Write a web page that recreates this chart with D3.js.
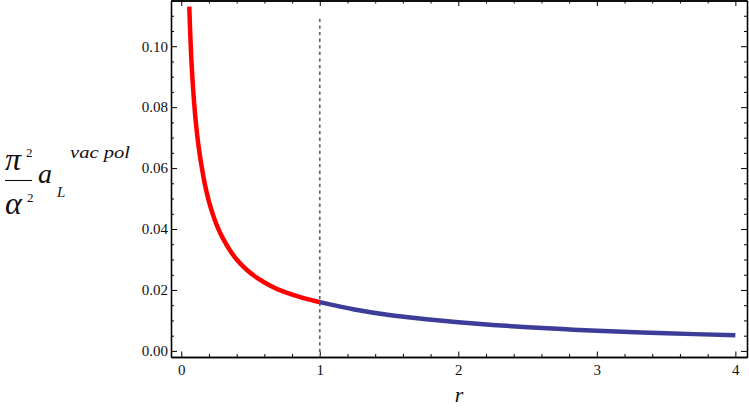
<!DOCTYPE html>
<html>
<head>
<meta charset="utf-8">
<script src="https://cdn.jsdelivr.net/npm/d3@7"></script>
<style>
  html, body { margin: 0; padding: 0; background: #fff; }
  svg { display: block; }
</style>
</head>
<body>
<svg width="749" height="418"></svg>
<script>
// values
const redR = [0.058, 0.065, 0.073, 0.082, 0.092, 0.105, 0.12, 0.135, 0.15, 0.17, 0.19, 0.21, 0.24, 0.27, 0.3, 0.35, 0.4, 0.47, 0.55, 0.64, 0.73, 0.82, 0.91, 1.0];
const redV = [0.113, 0.104, 0.0955, 0.0885, 0.082, 0.0752, 0.069, 0.064, 0.0598, 0.0548, 0.0508, 0.0474, 0.0432, 0.0398, 0.037, 0.0331, 0.030, 0.0267, 0.0239, 0.0215, 0.0196, 0.0182, 0.017, 0.016];
const blueR = [1.0, 1.25, 1.5, 1.75, 2.0, 2.25, 2.5, 2.75, 3.0, 3.5, 4.0];
const blueV = [0.016, 0.0136, 0.0118, 0.0105, 0.0094, 0.0085, 0.0078, 0.00715, 0.0066, 0.0058, 0.0051];
const xTicks = [0, 1, 2, 3, 4];
const yTicks = [0, 0.02, 0.04, 0.06, 0.08, 0.10];
const cutR = 1;
const cutTop = 0.109;

const serif = "'Liberation Serif', 'Times New Roman', serif";
const svg = d3.select("svg");
const m = {left: 171, right: 747, top: 0.5, bottom: 357};

const x = d3.scaleLinear().domain([-0.074, 4.084]).range([m.left, m.right]);
const y = d3.scaleLinear().domain([-0.002, 0.115]).range([m.bottom, m.top]);

const xMinor = d3.range(0, 4.01, 0.2).filter(v => Math.abs(v - Math.round(v)) > 1e-6);
const yMinor = d3.range(0, 0.1151, 0.005).filter(v => Math.abs(v / 0.02 - Math.round(v / 0.02)) > 1e-6);

function addAxis(axisFn, scale, pos, vals, size, fmt) {
  const a = axisFn(scale).tickValues(vals).tickSizeInner(size).tickSizeOuter(0)
    .tickFormat(fmt ? d3.format(fmt) : "");
  const g = svg.append("g").attr("transform", pos).call(a);
  g.attr("font-family", null).attr("font-size", null);
  g.selectAll("text").style("font-family", serif).style("font-size", "15px").attr("fill", "#111");
  g.selectAll("path").attr("stroke-width", 1.3);
  return g;
}

// bottom
addAxis(d3.axisBottom, x, `translate(0,${m.bottom})`, xMinor, -3);
addAxis(d3.axisBottom, x, `translate(0,${m.bottom})`, xTicks, -5.5, "d")
  .call(g => g.selectAll("text").attr("y", 7));
// top
addAxis(d3.axisTop, x, `translate(0,${m.top})`, xMinor, -3);
addAxis(d3.axisTop, x, `translate(0,${m.top})`, xTicks, -5.5);
// left
addAxis(d3.axisLeft, y, `translate(${m.left},0)`, yMinor, -3);
addAxis(d3.axisLeft, y, `translate(${m.left},0)`, yTicks, -6, ".2f")
  .call(g => g.selectAll("text").attr("x", -3));
// right
addAxis(d3.axisRight, y, `translate(${m.right},0)`, yMinor, -3);
addAxis(d3.axisRight, y, `translate(${m.right},0)`, yTicks, -6);

// dashed line at r = 1
svg.append("line")
  .attr("x1", x(cutR)).attr("x2", x(cutR))
  .attr("y1", y(cutTop)).attr("y2", m.bottom)
  .attr("stroke", "#666")
  .attr("stroke-width", 1.7)
  .attr("stroke-dasharray", "3.3,3.3");

const line = d3.line()
  .x(d => x(d[0]))
  .y(d => y(d[1]))
  .curve(d3.curveCatmullRom);

svg.append("path")
  .datum(d3.zip(blueR, blueV))
  .attr("fill", "none")
  .attr("stroke", "#3d3d99")
  .attr("stroke-width", 4.5)
  .attr("d", line);

svg.append("path")
  .datum(d3.zip(redR, redV))
  .attr("fill", "none")
  .attr("stroke", "#ff0000")
  .attr("stroke-width", 4.5)
  .attr("d", line);

// y axis label: pi^2/alpha^2 a_L^{vac pol}
const lab = svg.append("g").attr("fill", "#111");
function t(px, py, size, italic, s, len) {
  const e = lab.append("text").attr("x", px).attr("y", py)
    .style("font-family", serif).style("font-size", size + "px")
    .style("font-style", italic ? "italic" : "normal").text(s);
  if (len) e.attr("textLength", len).attr("lengthAdjust", "spacingAndGlyphs");
}
t(5, 170, 32, true, "π");
t(26, 157, 13, false, "2");
lab.append("line").attr("x1", 5).attr("x2", 32).attr("y1", 180.5).attr("y2", 180.5)
  .attr("stroke", "#111").attr("stroke-width", 1.1);
t(5, 214, 32, true, "α");
t(27, 202, 13, false, "2");
t(38, 183, 28, true, "a");
t(57, 197, 15, true, "L");
t(70, 158, 17, true, "vac pol", 60);

// x axis label
svg.append("text")
  .attr("x", (m.left + m.right) / 2).attr("y", 402)
  .attr("text-anchor", "middle")
  .style("font-family", serif)
  .style("font-style", "italic")
  .style("font-size", "22px")
  .attr("fill", "#111")
  .text("r");
</script>
</body>
</html>
